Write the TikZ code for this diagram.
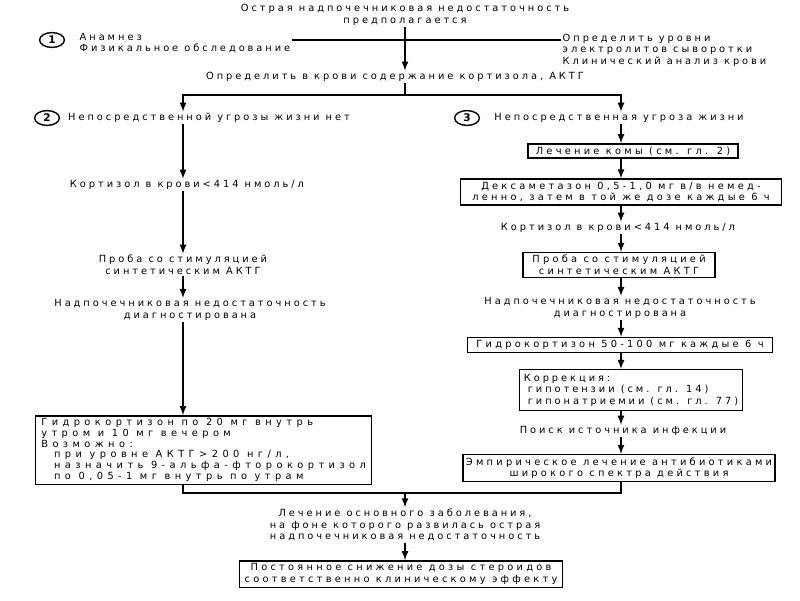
\documentclass[tikz,border=0pt]{standalone}
\usepackage{fontspec}
\setmainfont{DejaVu Sans}[LetterSpace=30]
\usetikzlibrary{arrows,positioning,shapes}

\begin{document}
\begin{tikzpicture}[x=0.025cm, y=-0.025cm,
    font=\fontsize{7}{8.2}\selectfont]
	\tikzstyle{txt}
	  =[align=center, inner sep=1pt]
	\tikzstyle{item}
	  =[draw, rectangle, line width=1pt, inner sep=2pt, align=center,
	  font=\fontsize{7}{8.2}\selectfont\addfontfeature{LetterSpace=33}]
	\tikzstyle{item_l}
	  =[draw, rectangle, line width=1pt, inner sep=3pt, align=left]
	\tikzstyle{num}
	  =[draw, ellipse, line width=1pt, inner sep=0pt,
	  minimum width=0.62cm, minimum height=0.37cm, font=\fontsize{7.5}{8}\bfseries]
	\tikzstyle{flow}
	  =[line width=1.2pt]

	\useasboundingbox (0,0) rectangle (800,600);

	\coordinate (colL) at (183,0);
	\coordinate (colR) at (621,0);
	\coordinate (colM) at (405,0);

	% top
	\node[txt] (suspect) at (405,15)
	  {Острая надпочечниковая недостаточность\\предполагается};
	\node[num] (n1) at (52,40) {1};
	\node[txt, align=left, anchor=west] (anamnez) at (78,43)
	  {Анамнез\\Физикальное обследование};
	\node[txt, align=left, anchor=west] (electro) at (561,50)
	  {Определить уровни\\электролитов сыворотки\\Клинический анализ крови};
	\coordinate (j1) at (405,40);
	\node[txt] (cortisol) at (395,77)
	  {Определить в крови содержание кортизола, АКТГ};
	\coordinate (split) at (405,95);

	% no threat
	\node[num] (n2) at (47,118) {2};
	\node[txt] (nothreat) at (209,118)
	  {Непосредственной угрозы жизни нет};
	\node[txt] (cortL) at (187,185)
	  {Кортизол в крови<414 нмоль/л};
	\node[txt] (testL) at (183,265)
	  {Проба со стимуляцией\\синтетическим АКТГ};
	\node[txt] (diagL) at (190,310)
	  {Надпочечниковая недостаточность\\диагностирована};
	\node[item_l, inner ysep=2pt, inner xsep=4pt, anchor=west,
	  font=\fontsize{7}{7.6}\selectfont\addfontfeature{LetterSpace=45}] (hydroL) at (35,450)
	  {Гидрокортизон по 20 мг внутрь\\
	  утром и 10 мг вечером\\
	  Возможно:\\
	  \hspace*{1.3em}при уровне АКТГ>200 нг/л,\\
	  \hspace*{1.3em}назначить 9-альфа-фторокортизол\\
	  \hspace*{1.3em}по 0,05-1 мг внутрь по утрам};

	% threat
	\node[num] (n3) at (467,118) {3};
	\node[txt] (threat) at (619,118)
	  {Непосредственная угроза жизни};
	\node[item, minimum width=5.25cm] (coma) at (633,151)
	  {Лечение комы (см. гл. 2)};
	\node[item, minimum width=8.03cm] (dexa) at (621,192)
	  {Дексаметазон 0,5-1,0 мг в/в немед-\\ленно, затем в той же дозе каждые 6 ч};
	\node[txt] (cortR) at (618,228)
	  {Кортизол в крови<414 нмоль/л};
	\node[item, minimum width=4.8cm] (testR) at (619,265)
	  {Проба со стимуляцией\\синтетическим АКТГ};
	\node[txt] (diagR) at (620,308)
	  {Надпочечниковая недостаточность\\диагностирована};
	\node[item, minimum width=7.63cm] (hydroR) at (620,345)
	  {Гидрокортизон 50-100 мг каждые 6 ч};
	\node[item_l] (correct) at (631,390)
	  {Коррекция:\\
	  \hspace*{0.4em}гипотензии (см. гл. 14)\\
	  \hspace*{0.4em}гипонатриемии (см. гл. 77)};
	\node[txt] (infect) at (623,431)
	  {Поиск источника инфекции};
	\node[item, minimum width=7.8cm] (empir) at (619,468)
	  {Эмпирическое лечение антибиотиками\\широкого спектра действия};

	% bottom
	\coordinate (joinL) at (183,493);
	\coordinate (joinR) at (621,493);
	\coordinate (merge) at (405,493);
	\node[txt] (basic) at (405,525)
	  {Лечение основного заболевания,\\
	  на фоне которого развилась острая\\
	  надпочечниковая недостаточность};
	\node[item, minimum width=8.08cm] (taper) at (401,574)
	  {Постоянное снижение дозы стероидов\\соответственно клиническому эффекту};

	% connectors
	\draw[flow,-latex] (suspect.south -| colM)--(cortisol.north -| colM);
	\draw[flow] (anamnez.east |- j1)--(j1);
	\draw[flow] (j1)--(electro.west |- j1);
	\draw[flow] (cortisol.south -| colM)--(split);
	\draw[flow,-latex] (split)-|(nothreat.north -| colL);
	\draw[flow,-latex] (split)-|(threat.north -| colR);

	\draw[flow,-latex] (nothreat.south -| colL)--(cortL.north -| colL);
	\draw[flow,-latex] (cortL.south -| colL)--(testL.north -| colL);
	\draw[flow,-latex] (testL.south -| colL)--(diagL.north -| colL);
	\draw[flow,-latex] (diagL.south -| colL)--(hydroL.north -| colL);

	\draw[flow,-latex] (threat.south -| colR)--(coma.north -| colR);
	\draw[flow,-latex] (coma.south -| colR)--(dexa.north -| colR);
	\draw[flow,-latex] (dexa.south -| colR)--(cortR.north -| colR);
	\draw[flow,-latex] (cortR.south -| colR)--(testR.north -| colR);
	\draw[flow,-latex] (testR.south -| colR)--(diagR.north -| colR);
	\draw[flow,-latex] (diagR.south -| colR)--(hydroR.north -| colR);
	\draw[flow,-latex] (hydroR.south -| colR)--(correct.north -| colR);
	\draw[flow,-latex] (correct.south -| colR)--(infect.north -| colR);
	\draw[flow,-latex] (infect.south -| colR)--(empir.north -| colR);

	\draw[flow] (hydroL.south -| colL)--(joinL)--(joinR)--(empir.south -| colR);
	\draw[flow,-latex] (merge)--(basic.north -| colM);
	\draw[flow,-latex] (basic.south -| colM)--(taper.north -| colM);
\end{tikzpicture}
\end{document}
